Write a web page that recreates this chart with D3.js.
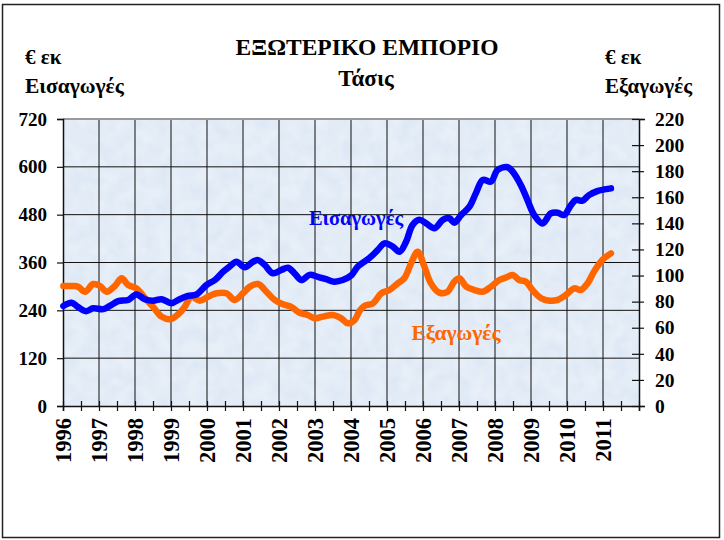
<!DOCTYPE html>
<html>
<head>
<meta charset="utf-8">
<script src="https://cdn.jsdelivr.net/npm/d3@7"></script>
<style>
  body { margin: 0; background: #fff; }
  text { font-family: "Liberation Serif", "Times New Roman", serif; font-weight: bold; }
</style>
</head>
<body>
<script>
// Εισαγωγές (αριστερός άξονας) - τάση
const importYears = [1996.01, 1996.24, 1996.42, 1996.64, 1996.84, 1997.12, 1997.30, 1997.53, 1997.81, 1998.04,
  1998.27, 1998.50, 1998.74, 1999.01, 1999.24, 1999.47, 1999.71, 1999.99, 2000.22, 2000.45,
  2000.63, 2000.82, 2001.05, 2001.28, 2001.42, 2001.60, 2001.83, 2002.06, 2002.25, 2002.43,
  2002.62, 2002.85, 2003.08, 2003.31, 2003.54, 2003.77, 2004.01, 2004.19, 2004.51, 2004.74,
  2004.93, 2005.16, 2005.35, 2005.53, 2005.71, 2005.90, 2006.09, 2006.32, 2006.55, 2006.73,
  2006.87, 2007.06, 2007.29, 2007.47, 2007.66, 2007.89, 2008.07, 2008.35, 2008.49, 2008.72,
  2008.90, 2009.09, 2009.32, 2009.55, 2009.74, 2009.92, 2010.11, 2010.25, 2010.43, 2010.61,
  2010.84, 2011.08, 2011.22];
const importValues = [251, 259, 248, 238, 245, 243, 251, 263, 266, 280,
  268, 264, 268, 258, 268, 276, 280, 304, 316, 337,
  350, 362, 348, 362, 366, 354, 333, 341, 347, 333,
  316, 329, 324, 318, 312, 316, 328, 350, 371, 391,
  408, 400, 387, 412, 454, 467, 458, 446, 467, 471,
  460, 479, 500, 534, 567, 563, 592, 599, 588, 554,
  517, 479, 458, 483, 485, 479, 504, 517, 515, 529,
  539, 544, 546];

// Εξαγωγές (δεξιός άξονας) - τάση
const exportYears = [1996.01, 1996.29, 1996.42, 1996.61, 1996.84, 1997.03, 1997.21, 1997.44, 1997.63, 1997.81,
  1998.04, 1998.27, 1998.50, 1998.74, 1998.97, 1999.20, 1999.38, 1999.57, 1999.80, 2000.03,
  2000.26, 2000.54, 2000.77, 2001.00, 2001.19, 2001.42, 2001.65, 2001.88, 2002.11, 2002.34,
  2002.57, 2002.80, 2002.99, 2003.22, 2003.50, 2003.73, 2003.91, 2004.10, 2004.24, 2004.37,
  2004.61, 2004.84, 2005.07, 2005.30, 2005.48, 2005.67, 2005.85, 2006.04, 2006.22, 2006.45,
  2006.68, 2006.87, 2007.01, 2007.20, 2007.43, 2007.66, 2007.89, 2008.12, 2008.30, 2008.49,
  2008.67, 2008.86, 2009.04, 2009.28, 2009.51, 2009.74, 2009.97, 2010.20, 2010.38, 2010.57,
  2010.75, 2010.98, 2011.22];
const exportValues = [92, 92, 91.5, 87.6, 93.5, 92, 87.6, 92, 97.9, 92.8,
  90.2, 83, 76, 68.5, 66.5, 70.3, 76, 83.8, 80.7, 83.8,
  86.4, 86.4, 81.3, 86.4, 91.5, 93.5, 87.6, 81.3, 78, 76,
  71.5, 69.8, 67.2, 68.5, 69.8, 67.2, 63.4, 65.9, 73, 76.7,
  78.7, 86.4, 88.9, 94, 97.9, 109.4, 118.3, 106.8, 94, 86.9,
  87.6, 95.3, 97.9, 91.5, 88.9, 87.6, 91.5, 96.6, 98.4, 100.4,
  96.6, 95.3, 88.9, 82.6, 80.7, 81.3, 85.1, 90.2, 88.9, 94,
  103, 111.9, 117];

const yearLabels = d3.range(1996, 2012);
const leftTicks = d3.range(0, 721, 120);
const rightTicks = d3.range(0, 221, 20);

const width = 724, height = 540;
const plot = { left: 63, right: 639, top: 119, bottom: 406 };

const x = d3.scaleLinear().domain([1996, 2012]).range([plot.left, plot.right]);
const yLeft = d3.scaleLinear().domain([0, 720]).range([plot.bottom, plot.top]);
const yRight = d3.scaleLinear().domain([0, 220]).range([plot.bottom, plot.top]);

const svg = d3.select('body').append('svg')
    .attr('width', width)
    .attr('height', height);

// Πλαίσιο
svg.append('rect')
    .attr('x', 2.5).attr('y', 4.5)
    .attr('width', 717).attr('height', 533)
    .attr('fill', '#fff')
    .attr('stroke', '#222')
    .attr('stroke-width', 1.5);

// Φόντο περιοχής σχεδίασης με υφή
const defs = svg.append('defs');
const filter = defs.append('filter').attr('id', 'paper')
    .attr('x', 0).attr('y', 0).attr('width', 1).attr('height', 1);
filter.append('feTurbulence')
    .attr('type', 'fractalNoise').attr('baseFrequency', 0.07)
    .attr('numOctaves', 2).attr('seed', 3).attr('result', 'noise');
filter.append('feColorMatrix').attr('in', 'noise').attr('type', 'matrix')
    .attr('values', '0 0 0 0 1  0 0 0 0 1  0 0 0 0 1  0 0 0 0.45 0')
    .attr('result', 'spots');
filter.append('feComposite').attr('in', 'spots').attr('in2', 'SourceGraphic')
    .attr('operator', 'atop');

svg.append('rect')
    .attr('x', plot.left).attr('y', plot.top)
    .attr('width', plot.right - plot.left).attr('height', plot.bottom - plot.top)
    .attr('fill', '#dae6f4')
    .attr('filter', 'url(#paper)');

// Οριζόντιες γραμμές πλέγματος
svg.append('g')
  .selectAll('line')
  .data(leftTicks.filter(d => d > 0 && d < 720))
  .join('line')
    .attr('x1', plot.left).attr('x2', plot.right)
    .attr('y1', d => yLeft(d)).attr('y2', d => yLeft(d))
    .attr('stroke', '#111').attr('stroke-width', 1);

// Κάθετες γραμμές πλέγματος
svg.append('g')
  .selectAll('line')
  .data(yearLabels.slice(1))
  .join('line')
    .attr('x1', d => x(d)).attr('x2', d => x(d))
    .attr('y1', plot.top).attr('y2', plot.bottom)
    .attr('stroke', '#111').attr('stroke-width', 1);

// Πάνω όριο
svg.append('line')
    .attr('x1', plot.left).attr('x2', plot.right)
    .attr('y1', plot.top).attr('y2', plot.top)
    .attr('stroke', '#999').attr('stroke-width', 2);

// Αριστερός άξονας
const leftAxis = svg.append('g')
    .attr('transform', `translate(${plot.left},0)`)
    .call(d3.axisLeft(yLeft).tickValues(leftTicks).tickSize(6).tickPadding(10));
leftAxis.select('.domain').attr('stroke', '#111').attr('stroke-width', 1.5);
leftAxis.selectAll('.tick line').attr('stroke', '#111').attr('stroke-width', 1.2);
leftAxis.selectAll('text')
    .style('font-size', '19px').attr('fill', '#000');

// Δεξιός άξονας
const rightAxis = svg.append('g')
    .attr('transform', `translate(${plot.right},0)`)
    .call(d3.axisRight(yRight).tickValues(rightTicks).tickSize(6).tickPadding(10));
rightAxis.select('.domain').attr('stroke', '#111').attr('stroke-width', 1.5);
rightAxis.selectAll('.tick line')
    .attr('x1', -7).attr('x2', 5)
    .attr('stroke', '#111').attr('stroke-width', 1.2);
rightAxis.selectAll('text')
    .style('font-size', '19.5px').attr('fill', '#000');

// Άξονας χρόνου
const bottomAxis = svg.append('g')
    .attr('transform', `translate(0,${plot.bottom})`)
    .call(d3.axisBottom(x).tickValues(d3.range(1996, 2012.01, 0.5)).tickSize(5).tickFormat(''));
bottomAxis.select('.domain').attr('stroke', '#111').attr('stroke-width', 1.5);
bottomAxis.selectAll('.tick line')
    .attr('y1', -5).attr('y2', 5)
    .attr('stroke', '#111').attr('stroke-width', 1.2);

svg.append('g')
  .selectAll('text')
  .data(yearLabels)
  .join('text')
    .attr('transform', d => `translate(${x(d) + 7.5},${plot.bottom + 12}) rotate(-90)`)
    .attr('text-anchor', 'end')
    .style('font-size', '22.5px')
    .text(d => d);

// Γραμμές
const importLine = d3.line()
    .x((d, i) => x(importYears[i]))
    .y(d => yLeft(d))
    .curve(d3.curveCatmullRom.alpha(0.5));

const exportLine = d3.line()
    .x((d, i) => x(exportYears[i]))
    .y(d => yRight(d))
    .curve(d3.curveCatmullRom.alpha(0.5));

svg.append('path')
    .attr('d', exportLine(exportValues))
    .attr('fill', 'none')
    .attr('stroke', '#ff6600')
    .attr('stroke-width', 6.5)
    .attr('stroke-linecap', 'round')
    .attr('stroke-linejoin', 'round');

svg.append('path')
    .attr('d', importLine(importValues))
    .attr('fill', 'none')
    .attr('stroke', '#0000ff')
    .attr('stroke-width', 6.5)
    .attr('stroke-linecap', 'round')
    .attr('stroke-linejoin', 'round');

// Ετικέτες σειρών
svg.append('text')
    .attr('x', 356).attr('y', 225)
    .attr('text-anchor', 'middle')
    .attr('fill', '#0000ff')
    .style('font-size', '20.5px')
    .text('Εισαγωγές');

svg.append('text')
    .attr('x', 456).attr('y', 340)
    .attr('text-anchor', 'middle')
    .attr('fill', '#ff6600')
    .style('font-size', '21.5px')
    .text('Εξαγωγές');

// Τίτλοι
svg.append('text')
    .attr('x', 367).attr('y', 55)
    .attr('text-anchor', 'middle')
    .style('font-size', '23.5px')
    .text('ΕΞΩΤΕΡΙΚΟ ΕΜΠΟΡΙΟ');

svg.append('text')
    .attr('x', 366).attr('y', 86)
    .attr('text-anchor', 'middle')
    .style('font-size', '23px')
    .text('Τάσις');

svg.append('text').attr('x', 25).attr('y', 64).style('font-size', '21px').text('€ εκ');
svg.append('text').attr('x', 25).attr('y', 93).style('font-size', '21.5px').text('Εισαγωγές');
svg.append('text').attr('x', 605).attr('y', 64).style('font-size', '21px').text('€ εκ');
svg.append('text').attr('x', 605).attr('y', 93).style('font-size', '21px').text('Εξαγωγές');
</script>
</body>
</html>
